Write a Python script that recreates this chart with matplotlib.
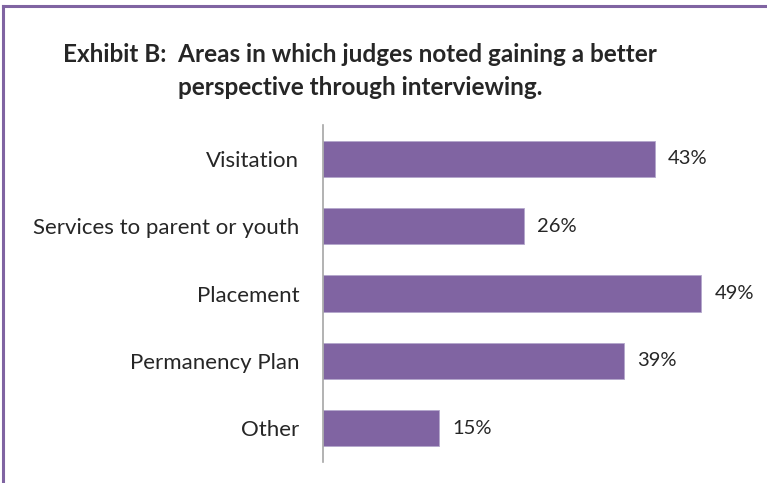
import matplotlib
matplotlib.use("Agg")
import matplotlib.pyplot as plt

categories = ["Visitation", "Services to parent or youth", "Placement",
              "Permanency Plan", "Other"]
values = [43, 26, 49, 39, 15]
title = ("Exhibit B:  Areas in which judges noted gaining a better\n"
         "perspective through interviewing.")

purple = "#8064A2"
text_color = "#262626"

W, H = 767, 483
fig = plt.figure(figsize=(W / 100, H / 100), dpi=100)
plt.rcParams["font.family"] = ["Lato", "DejaVu Sans"]

# frame around the exhibit (top and left edges visible)
fig.add_artist(plt.Line2D([3.5 / W, 3.5 / W], [0, 1 - 6 / H], color=purple, lw=2.2,
                          transform=fig.transFigure))
fig.add_artist(plt.Line2D([3.5 / W, 1], [1 - 6 / H, 1 - 6 / H], color=purple, lw=2.2,
                          transform=fig.transFigure))

left, right = 323, 740
top, bottom = 125, 462
ax = fig.add_axes([left / W, 1 - bottom / H, (right - left) / W, (bottom - top) / H])

y = list(range(len(categories)))
ax.barh(y, values, height=0.54, color=purple, edgecolor="#B4A7CC", linewidth=0.6)
ax.set_ylim(len(categories) - 0.5, -0.5)
ax.set_xlim(0, (right - left) / 7.72)

for yi, v in zip(y, values):
    ax.annotate(f"{v}%", (v, yi), xytext=(9.5, 0), textcoords="offset points",
                va="center", ha="left", fontsize=14.5, color=text_color)

ax.set_yticks(y)
ax.set_yticklabels(categories, fontsize=16, color=text_color)
ax.tick_params(axis="y", length=0, pad=17)
ax.set_xticks([])
for s in ["top", "right", "bottom"]:
    ax.spines[s].set_visible(False)
ax.spines["left"].set_color("#A6A6A6")
ax.spines["left"].set_linewidth(1.2)

fig.text(360 / W, 1 - 71 / H, title, ha="center", va="center", fontsize=17.5,
         fontweight="bold", color=text_color, linespacing=1.55)

fig.savefig("out.png", dpi=100)
